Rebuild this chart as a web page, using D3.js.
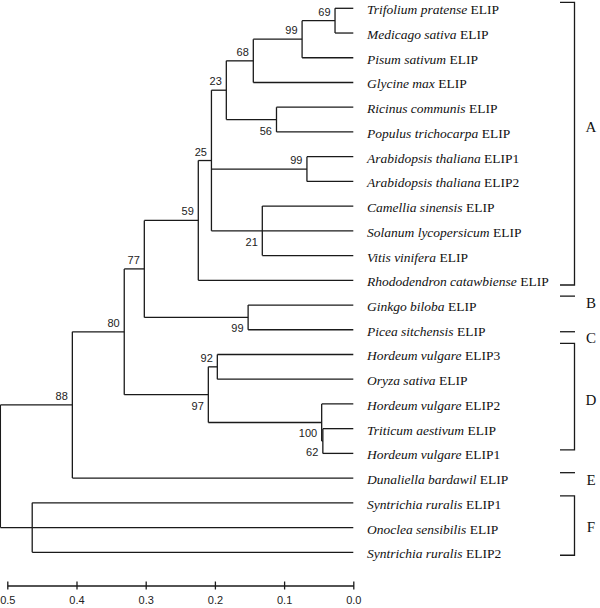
<!DOCTYPE html>
<html>
<head>
<meta charset="utf-8">
<script src="https://cdn.jsdelivr.net/npm/d3@7"></script>
<style>
  html, body { margin: 0; padding: 0; background: #fff; }
  svg { display: block; }
</style>
</head>
<body>
<svg id="chart" width="600" height="608"></svg>
<script>
// ---------- DATA ----------
const leafSpecies = ["Trifolium pratense","Medicago sativa","Pisum sativum","Glycine max",
  "Ricinus communis","Populus trichocarpa","Arabidopsis thaliana","Arabidopsis thaliana",
  "Camellia sinensis","Solanum lycopersicum","Vitis vinifera","Rhododendron catawbiense",
  "Ginkgo biloba","Picea sitchensis","Hordeum vulgare","Oryza sativa","Hordeum vulgare",
  "Triticum aestivum","Hordeum vulgare","Dunaliella bardawil","Syntrichia ruralis",
  "Onoclea sensibilis","Syntrichia ruralis"];
const leafGene = ["ELIP","ELIP","ELIP","ELIP","ELIP","ELIP","ELIP1","ELIP2","ELIP","ELIP",
  "ELIP","ELIP","ELIP","ELIP","ELIP3","ELIP","ELIP2","ELIP","ELIP1","ELIP","ELIP1","ELIP","ELIP2"];
const leafParent = ["n69","n69","n99a","n68","n56","n56","n99b","n99b","n21","n21","n21","n59",
  "n99c","n99c","n92","n92","n100","n62","n62","n88","nF","nF","nF"];

const nodeId      = ["root","n88","n80","n77","n59","n25","n23","n68","n99a","n69","n56","n99b","n21","n99c","n97","n92","n100","n62","nF"];
const nodeParent  = ["","root","n88","n80","n77","n59","n25","n23","n68","n99a","n23","n25","n25","n77","n80","n97","n97","n100","root"];
const nodeHeight  = [0.51,0.406,0.331,0.302,0.224,0.205,0.1835,0.1445,0.074,0.0264,0.111,0.067,0.1315,0.152,0.2095,0.1965,0.0457,0.044,0.464];
const nodeSupport = [null,88,80,77,59,25,23,68,99,69,56,99,21,99,97,92,100,62,null];

const axisTicks = [0.5,0.4,0.3,0.2,0.1,0.0];

const groupName  = ["A","B","C","D","E","F"];
const groupStart = [-0.24, 11.64, 13.08, 13.55, 18.78, 19.72];   // in leaf-row units
const groupEnd   = [11.19, 11.64, 13.08, 17.86, 18.78, 22.12];
const groupLabel = [4.8, 11.92, 13.33, 15.85, 19.07, 20.95];

// ---------- BUILD ----------
const rows = [];
nodeId.forEach((id,i) => rows.push({id, parent: nodeParent[i] || null, h: nodeHeight[i], s: nodeSupport[i], leaf: -1}));
leafSpecies.forEach((sp,i) => rows.push({id: "L"+i, parent: leafParent[i], h: 0, s: null, leaf: i}));

const root = d3.stratify().id(d => d.id).parentId(d => d.parent)(rows);
root.eachAfter(n => {
  n.minLeaf = n.children ? d3.min(n.children, c => c.minLeaf) : n.data.leaf;
});
root.sort((a,b) => a.minLeaf - b.minLeaf);

const svg = d3.select("#chart");
const x = d3.scaleLinear().domain([0.5, 0]).range([7.3, 353.3]);
const yRow = d3.scaleLinear().domain([0, leafSpecies.length - 1]).range([8.3, 552.3]);

root.eachAfter(n => {
  if (!n.children) n.y = yRow(n.data.leaf);
  else n.y = (n.children[0].y + n.children[n.children.length-1].y) / 2;
  n.x = x(n.data.h);
});

const stroke = "#1a1a1a";
const g = svg.append("g").attr("fill","none").attr("stroke",stroke).attr("stroke-width",1.3);

// horizontal branches
g.selectAll("line.h").data(root.descendants().filter(n => n.parent)).join("line")
  .attr("class","h")
  .attr("x1", n => n.parent.x).attr("x2", n => n.x)
  .attr("y1", n => n.y).attr("y2", n => n.y);

// vertical connectors
g.selectAll("line.v").data(root.descendants().filter(n => n.children)).join("line")
  .attr("class","v")
  .attr("x1", n => n.x).attr("x2", n => n.x)
  .attr("y1", n => n.children[0].y).attr("y2", n => n.children[n.children.length-1].y);

// support values
const supp = root.descendants().filter(n => n.data.s != null);
svg.append("g").selectAll("text").data(supp).join("text")
  .attr("x", n => n.x - 4.5)
  .attr("y", n => {
    const sib = n.parent.children;
    const isLast = sib[sib.length-1] === n;
    return isLast ? n.y + 15 : n.y - 5;
  })
  .attr("text-anchor","end")
  .attr("font-family","'Liberation Sans', Arial, sans-serif")
  .attr("font-size", 11)
  .attr("fill", "#222")
  .text(n => n.data.s);

// leaf labels
const lab = svg.append("g").selectAll("text").data(root.leaves()).join("text")
  .attr("x", 367)
  .attr("y", n => n.y + 6)
  .attr("font-family","'Liberation Serif', 'Times New Roman', serif")
  .attr("font-size", 13.5)
  .attr("fill", "#111");
lab.append("tspan").attr("font-style","italic").text(n => leafSpecies[n.data.leaf]);
lab.append("tspan").text(n => " " + leafGene[n.data.leaf]);

// axis
const axis = d3.axisBottom(x).tickValues(axisTicks).tickFormat(d3.format(".1f"))
  .tickSize(4).tickSizeOuter(0).tickPadding(7);
const ag = svg.append("g").attr("transform","translate(0,585.5)").call(axis);
ag.select(".domain").attr("stroke", stroke).attr("stroke-width",1.3);
ag.selectAll(".tick line").attr("y1",-4).attr("stroke",stroke).attr("stroke-width",1.3);
ag.selectAll(".tick text").attr("font-family","'Liberation Sans', Arial, sans-serif")
  .attr("font-size",11).attr("fill","#222");

// group brackets
const gb = svg.append("g");
groupName.forEach((name,i) => {
  const y0 = yRow(groupStart[i]), y1 = yRow(groupEnd[i]);
  if (groupStart[i] === groupEnd[i]) {
    gb.append("line").attr("x1",560).attr("x2",575).attr("y1",y0).attr("y2",y0)
      .attr("stroke",stroke).attr("stroke-width",1.3);
  } else {
    gb.append("path").attr("d", `M560,${y0}H574.5V${y1}H560`)
      .attr("fill","none").attr("stroke",stroke).attr("stroke-width",1.3);
  }
  gb.append("text").attr("x",591).attr("y", yRow(groupLabel[i])).attr("dy","0.35em")
    .attr("text-anchor","middle")
    .attr("font-family","'Liberation Serif', 'Times New Roman', serif")
    .attr("font-size",15).attr("fill","#111").text(name);
});
</script>
</body>
</html>
